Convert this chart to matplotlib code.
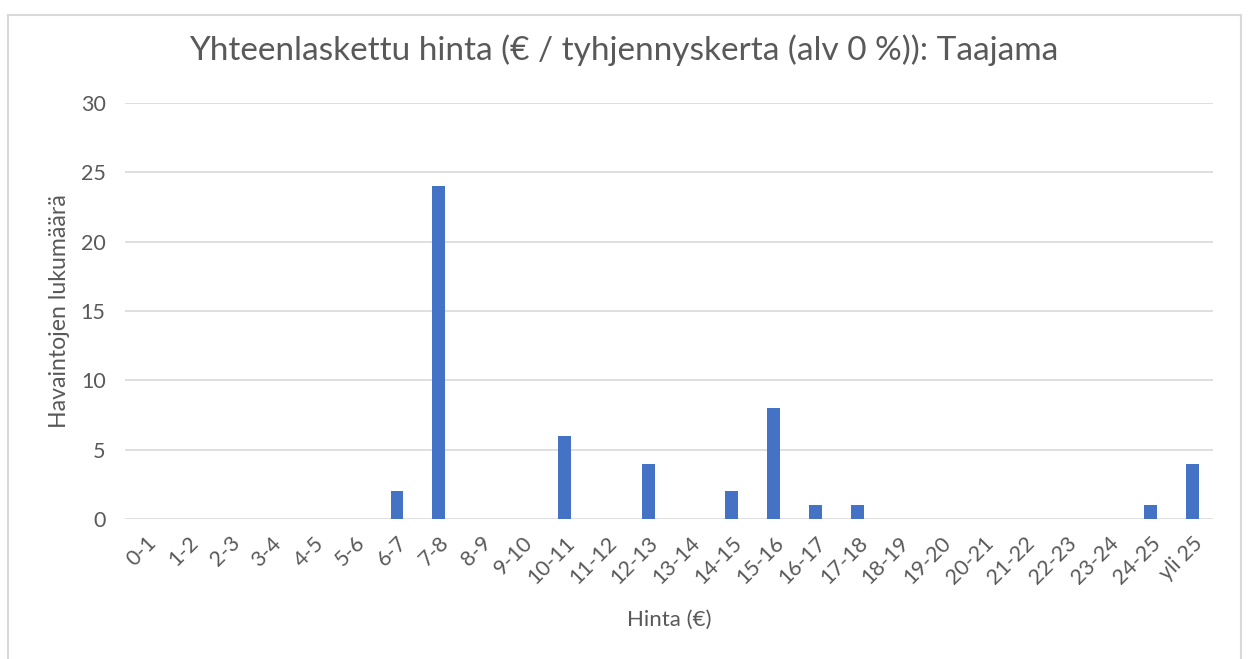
import matplotlib.pyplot as plt
import numpy as np

plt.rcParams['font.family'] = ['Lato', 'DejaVu Sans']

kategoriat = ['0-1', '1-2', '2-3', '3-4', '4-5', '5-6', '6-7', '7-8', '8-9', '9-10',
              '10-11', '11-12', '12-13', '13-14', '14-15', '15-16', '16-17', '17-18',
              '18-19', '19-20', '20-21', '21-22', '22-23', '23-24', '24-25', 'yli 25']
lukumaarat = [0, 0, 0, 0, 0, 0, 2, 24, 0, 0,
              6, 0, 4, 0, 2, 8, 1, 1,
              0, 0, 0, 0, 0, 0, 1, 4]

harmaa = '#595959'

fig = plt.figure(figsize=(12.48, 6.59), dpi=100)
# kaavion reunus
fig.patches.append(plt.Rectangle((8 / 1248, -0.05), 1233 / 1248, 1.04 - 8 / 659,
                                 transform=fig.transFigure, fill=False,
                                 edgecolor='#d9d9d9', linewidth=1.5))

ax = fig.add_axes([125 / 1248, 1 - 519 / 659, 1088 / 1248, 416 / 659])
x = np.arange(len(kategoriat))
ax.bar(x, lukumaarat, width=0.31, color='#4472C4', zorder=3)

ax.set_xlim(-0.5, len(kategoriat) - 0.5)
ax.set_ylim(0, 30)
ax.set_yticks(range(0, 31, 5))
ax.set_xticks(x)
ax.set_xticklabels(kategoriat, rotation=45, ha='right', rotation_mode='anchor')
ax.tick_params(axis='both', length=0, colors=harmaa, labelsize=15.5)
ax.tick_params(axis='x', pad=10)
ax.tick_params(axis='y', pad=14)
ax.grid(axis='y', color='#d9d9d9', linewidth=1.2, zorder=0)
for s in ax.spines.values():
    s.set_visible(False)

fig.text(0.5, 1 - 50 / 659, 'Yhteenlaskettu hinta (€ / tyhjennyskerta (alv 0 %)): Taajama',
         fontsize=24, color=harmaa, ha='center', va='center')
ax.set_xlabel('Hinta (€)', fontsize=16, color=harmaa, labelpad=16)
ax.set_ylabel('Havaintojen lukumäärä', fontsize=16.7, color=harmaa, labelpad=8)

fig.savefig('out.png', dpi=100)
